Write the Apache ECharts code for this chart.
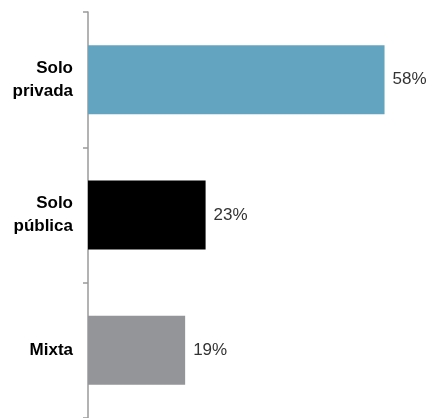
<!DOCTYPE html>
<html>
<head>
<meta charset="utf-8">
<style>
  html, body { margin: 0; padding: 0; background: #fff; }
  #chart { width: 428px; height: 418px; }
</style>
<script src="https://cdn.jsdelivr.net/npm/echarts@6/dist/echarts.min.js"></script>
</head>
<body>
<div id="chart"></div>
<script>
// Tipo de cobertura (porcentaje)
var categories = ['Solo\nprivada', 'Solo\npública', 'Mixta'];
var values = [58, 23, 19];
var barColors = ['#63a5c0', '#000000', '#939598'];

var chart = echarts.init(document.getElementById('chart'));
chart.setOption({
  animation: false,
  backgroundColor: '#fff',
  grid: { left: 88, top: 12, width: 340, bottom: -2, containLabel: false },
  xAxis: {
    type: 'value', min: 0, max: 66.5, show: false
  },
  yAxis: {
    type: 'category',
    inverse: true,
    data: categories,
    axisLine: { show: true, lineStyle: { color: '#9a9a9a', width: 1.5 } },
    axisTick: { show: true, length: 5, lineStyle: { color: '#9a9a9a', width: 1.5 } },
    axisLabel: {
      margin: 15,
      color: '#000',
      fontFamily: '"Liberation Sans", Arial, sans-serif',
      fontWeight: 'bold',
      fontSize: 17,
      lineHeight: 23,
      align: 'right'
    },
    splitLine: { show: false }
  },
  series: [{
    type: 'bar',
    barWidth: '51%',
    data: values.map(function (v, i) {
      return { value: v, itemStyle: { color: barColors[i] } };
    }),
    label: {
      show: true,
      position: 'right',
      distance: 8,
      formatter: '{c}%',
      color: '#333',
      fontFamily: '"Liberation Sans", Arial, sans-serif',
      fontSize: 17
    }
  }]
});
</script>
</body>
</html>
